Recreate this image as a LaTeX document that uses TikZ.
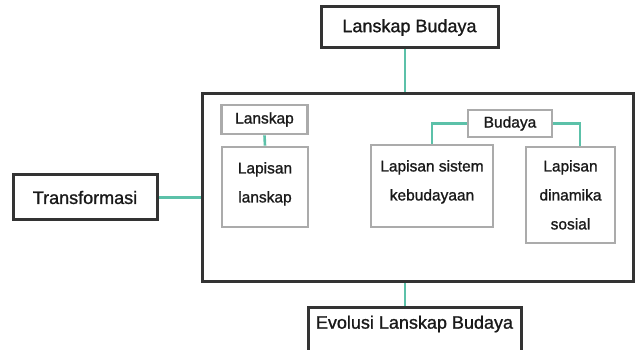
\documentclass[tikz,border=0pt]{standalone}
\usepackage{fontspec}
\setmainfont{Liberation Sans}[FakeBold=1.1]
\definecolor{dk}{HTML}{333333}
\definecolor{gr}{HTML}{ABABAB}
\definecolor{tl}{HTML}{5CC1A9}
\begin{document}
\begin{tikzpicture}[x=1pt,y=-1pt,
  dkbox/.style={draw=dk,line width=3pt,fill=white,inner sep=0pt},
  grbox/.style={draw=gr,line width=2.8pt,fill=white,inner sep=0pt},
  bigtxt/.style={font=\fontsize{18}{20}\selectfont,text=black!90},
  smtxt/.style={font=\fontsize{15.5}{29}\selectfont,align=center,text=black!90,anchor=north,inner sep=0pt},
  link/.style={draw=tl,line width=2.6pt}]
\useasboundingbox (0,0) rectangle (638,350);
\clip (0,0) rectangle (638,350);
\node[dkbox,minimum width=431pt,minimum height=187pt] (big) at (417.5,187.5) {};
\node[dkbox,minimum width=177pt,minimum height=41pt,bigtxt] (top) at (409.5,27.5) {Lanskap Budaya};
\node[dkbox,minimum width=144pt,minimum height=45pt,bigtxt] (trans) at (85,197.5) {Transformasi};
\node[dkbox,minimum width=213pt,minimum height=60pt] (bot) at (414.5,337) {};
\node[bigtxt,inner sep=0pt] (bottxt) at (414.5,324) {Evolusi Lanskap Budaya};
\draw[link] ([xshift=-4.5pt]top.south) -- ([xshift=-4.5pt]top.south |- big.north);
\draw[link] ([xshift=-9.5pt]bot.north) -- ([xshift=-9.5pt]bot.north |- big.south);
\draw[link] (trans.east) -- (trans.east -| big.west);
% inner boxes
\node[grbox,minimum width=86pt,minimum height=29pt] (lans) at (264.5,119.5) {};
\node[font=\fontsize{15.5}{18}\selectfont,text=black!90] (lanst) at (264.5,119.5) {Lanskap};
\node[grbox,minimum width=86pt,minimum height=80pt] (laplan) at (265,187) {};
\node[smtxt] (laplant) at (265,162) {Lapisan\\lanskap};
\node[grbox,minimum width=84pt,minimum height=27pt] (bud) at (510,123.5) {};
\node[font=\fontsize{15.5}{18}\selectfont,text=black!90] (budt) at (510,123.5) {Budaya};
\node[grbox,minimum width=122pt,minimum height=82pt] (lapsis) at (432,186) {};
\node[smtxt] (lapsist) at (432,160) {Lapisan sistem\\kebudayaan};
\node[grbox,minimum width=89pt,minimum height=96pt] (lapdin) at (570.5,195) {};
\node[smtxt] (lapdint) at (570.5,160) {Lapisan\\dinamika\\sosial};
\draw[link] (lans.south) -- (laplan.north);
\draw[link] (bud.west) -| (lapsis.north);
\draw[link] (bud.east) -| ([xshift=9.5pt]lapdin.north);
\end{tikzpicture}
\end{document}
